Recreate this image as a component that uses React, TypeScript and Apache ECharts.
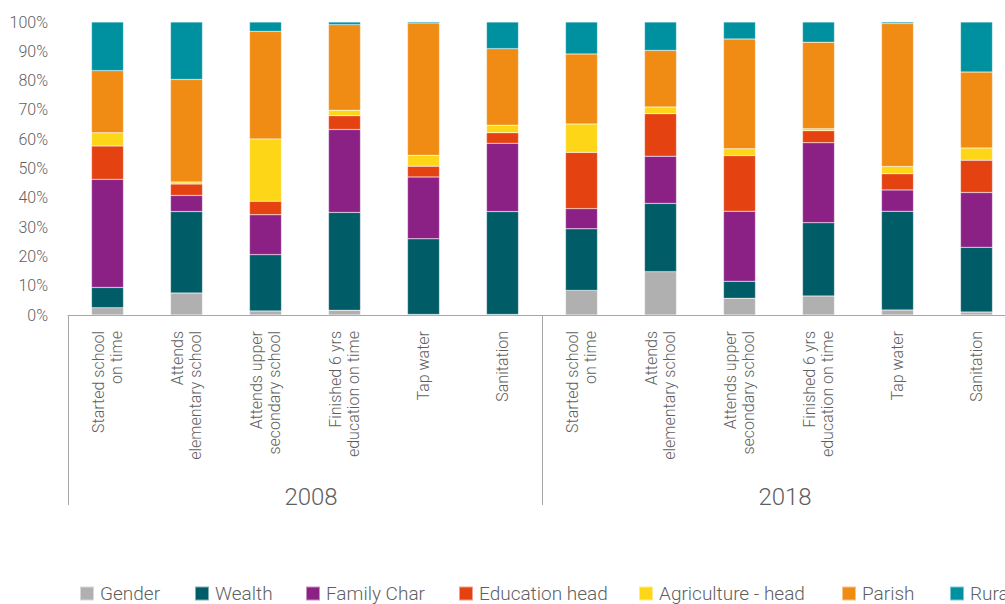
import React, { useEffect, useRef } from "react";
import * as echarts from "echarts";

const categories = [
  "Started school\non time",
  "Attends\nelementary school",
  "Attends upper\nsecondary school",
  "Finished 6 yrs\neducation on time",
  "Tap water",
  "Sanitation",
  "Started school\non time",
  "Attends\nelementary school",
  "Attends upper\nsecondary school",
  "Finished 6 yrs\neducation on time",
  "Tap water",
  "Sanitation",
];
const years = ["2008", "2018"];
const yTicks = { min: 0, max: 100, interval: 10 };

const seriesNames = ["Gender", "Wealth", "Family Char", "Education head", "Agriculture - head", "Parish", "Rural"];
const colors = ["#b0b0b0", "#005c66", "#8b2184", "#e54212", "#fed618", "#f08b14", "#0091a0"];

const gender = [2.5, 7.5, 1.4, 1.6, 0.2, 0.2, 8.4, 14.8, 5.7, 6.5, 1.7, 1.0];
const wealth = [6.9, 27.8, 19.2, 33.4, 25.8, 35.1, 21.0, 23.3, 5.8, 25.0, 33.7, 22.1];
const familyChar = [36.9, 5.5, 13.6, 28.3, 21.1, 23.3, 6.9, 16.1, 23.9, 27.3, 7.3, 18.7];
const educationHead = [11.4, 3.9, 4.6, 4.7, 3.7, 3.6, 19.2, 14.5, 19.0, 4.1, 5.5, 11.0];
const agricultureHead = [4.5, 0.7, 21.3, 1.9, 3.7, 2.6, 9.7, 2.3, 2.3, 0.7, 2.5, 4.2];
const parish = [21.2, 35.0, 36.7, 29.2, 45.2, 26.1, 23.9, 19.3, 37.5, 29.5, 48.8, 25.9];
const rural = [16.6, 19.6, 3.2, 0.9, 0.5, 9.1, 10.9, 9.7, 5.8, 6.9, 0.5, 17.1];

const seriesData = [gender, wealth, familyChar, educationHead, agricultureHead, parish, rural];
const legendLefts = [79, 194, 305, 458, 638, 841, 949];

const FONT = "Roboto, 'Noto Sans', sans-serif";
const TEXT = "#5f5f5f";

export default function App() {
  const ref = useRef<HTMLDivElement>(null);
  useEffect(() => {
    document.body.style.margin = "0";
    const chart = echarts.init(ref.current!, null, { renderer: "svg" });
    chart.setOption({
      animation: false,
      textStyle: { fontFamily: FONT, fontWeight: 300, color: TEXT },
      grid: { left: 68, top: 22, width: 948, height: 293, outerBoundsMode: "none", containLabel: false },
      legend: seriesNames.map((n, i) => ({
        data: [n],
        left: legendLefts[i],
        top: 584,
        padding: 0,
        itemWidth: 14,
        itemHeight: 14,
        itemGap: 0,
        icon: "rect",
        textStyle: { fontFamily: FONT, fontWeight: 300, fontSize: 19, color: TEXT, padding: [0, 0, 0, 1] },
      })),
      xAxis: [
        {
          type: "category",
          data: categories,
          axisLine: { lineStyle: { color: "#a6a6a6", width: 1 } },
          axisTick: { show: false },
          axisLabel: {
            interval: 0,
            rotate: 90,
            margin: 16,
            fontSize: 16,
            lineHeight: 18,
            fontFamily: FONT,
            fontWeight: 300,
            color: TEXT,
          },
        },
        {
          type: "category",
          data: years,
          position: "bottom",
          axisLine: { show: false },
          axisTick: { show: true, length: 190, lineStyle: { color: "#a6a6a6", width: 1 } },
          axisLabel: {
            margin: 170,
            fontSize: 24,
            fontFamily: FONT,
            fontWeight: 300,
            color: TEXT,
            padding: [0, 0, 0, 12],
          },
        },
      ],
      yAxis: {
        type: "value",
        min: yTicks.min,
        max: yTicks.max,
        interval: yTicks.interval,
        axisLine: { show: false },
        axisTick: { show: false },
        splitLine: { show: false },
        axisLabel: {
          formatter: "{value}%",
          margin: 20,
          fontSize: 16,
          fontFamily: FONT,
          fontWeight: 300,
          color: TEXT,
        },
      },
      series: seriesNames.map((n, i) => ({
        name: n,
        type: "bar",
        stack: "total",
        barWidth: 32,
        xAxisIndex: 0,
        data: seriesData[i],
        itemStyle: { color: colors[i], borderColor: "rgba(255,255,255,0.5)", borderWidth: 0.5 },
      })),
    });
    return () => chart.dispose();
  }, []);
  return <div ref={ref} style={{ width: 1005, height: 604 }} />;
}
